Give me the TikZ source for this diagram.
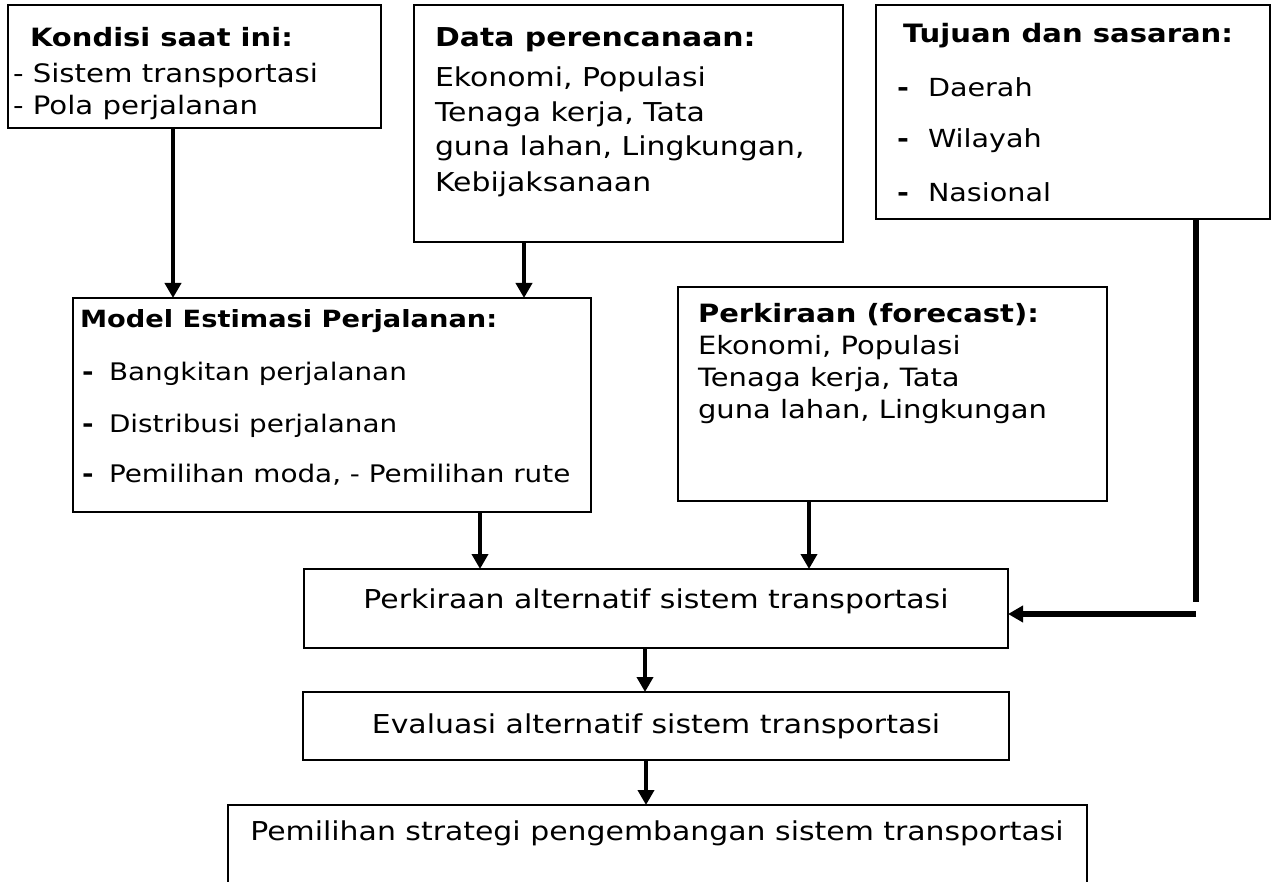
\documentclass[tikz,border=0pt]{standalone}
\usepackage{fontspec}
\setmainfont{DejaVu Sans}[FakeStretch=1.15]
\usetikzlibrary{arrows.meta}
\begin{document}
\begin{tikzpicture}[x=1pt,y=-1pt,
  box/.style={draw=black, line width=1.6pt, anchor=north west, inner sep=0pt, outer sep=0pt},
  ln/.style={anchor=base west, inner sep=0pt, outer sep=0pt, text=black},
  ctr/.style={anchor=base, inner sep=0pt, outer sep=0pt, text=black, font=\fontsize{26}{30}\selectfont},
  arr/.style={line width=4.5pt, -{Triangle[width=16pt,length=15pt]}},
  arrh/.style={line width=6pt, -{Triangle[width=16pt,length=15pt]}},
  feed/.style={line width=6pt}
]
\useasboundingbox[fill=white] (0,0) rectangle (1273,882);

% boxes
\node[box, minimum width=373pt, minimum height=123pt] (b1) at (8,5) {};
\node[box, minimum width=429pt, minimum height=237pt] (b2) at (414,5) {};
\node[box, minimum width=394pt, minimum height=214pt] (b3) at (876,5) {};
\node[box, minimum width=518pt, minimum height=214pt] (b4) at (73,298) {};
\node[box, minimum width=429pt, minimum height=214pt] (b5) at (678,287) {};
\node[box, minimum width=704pt, minimum height=79pt] (b6) at (304,569) {};
\node[box, minimum width=706pt, minimum height=68pt] (b7) at (303,692) {};
\node[box, minimum width=859pt, minimum height=120pt] (b8) at (228,805) {};

% box 1
\node[ln, font=\bfseries\fontsize{25.2}{29}\selectfont] (t1a) at (30,47) {Kondisi saat ini:};
\node[ln, font=\fontsize{25.4}{29}\selectfont] (t1b) at (13,83) {- Sistem transportasi};
\node[ln, font=\fontsize{25.4}{29}\selectfont] (t1c) at (13,115) {- Pola perjalanan};

% box 2
\node[ln, font=\bfseries\fontsize{26}{30}\selectfont] (t2a) at (435,47) {Data perencanaan:};
\node[ln, font=\fontsize{26}{30}\selectfont] (t2b) at (435,87) {Ekonomi, Populasi};
\node[ln, font=\fontsize{26}{30}\selectfont] (t2c) at (435,122) {Tenaga kerja, Tata};
\node[ln, font=\fontsize{26}{30}\selectfont] (t2d) at (435,156) {guna lahan, Lingkungan,};
\node[ln, font=\fontsize{26}{30}\selectfont] (t2e) at (435,192) {Kebijaksanaan};

% box 3
\node[ln, font=\bfseries\fontsize{25.3}{29}\selectfont] (t3a) at (903,43) {Tujuan dan sasaran:};
\node[ln, font=\bfseries\fontsize{24.9}{29}\selectfont] (d3b) at (897,97) {-};
\node[ln, font=\fontsize{24.9}{29}\selectfont] (t3b) at (928,97) {Daerah};
\node[ln, font=\bfseries\fontsize{24.9}{29}\selectfont] (d3c) at (897,148) {-};
\node[ln, font=\fontsize{24.9}{29}\selectfont] (t3c) at (928,148) {Wilayah};
\node[ln, font=\bfseries\fontsize{24.9}{29}\selectfont] (d3d) at (897,202) {-};
\node[ln, font=\fontsize{24.9}{29}\selectfont] (t3d) at (928,202) {Nasional};

% box 4
\node[ln, font=\bfseries\fontsize{23.7}{28}\selectfont] (t4a) at (80,327) {Model Estimasi Perjalanan:};
\node[ln, font=\bfseries\fontsize{24.2}{28}\selectfont] (d4b) at (82,380) {-};
\node[ln, font=\fontsize{24.2}{28}\selectfont] (t4b) at (109,380) {Bangkitan perjalanan};
\node[ln, font=\bfseries\fontsize{24.2}{28}\selectfont] (d4c) at (82,432) {-};
\node[ln, font=\fontsize{24.2}{28}\selectfont] (t4c) at (109,432) {Distribusi perjalanan};
\node[ln, font=\bfseries\fontsize{24.2}{28}\selectfont] (d4d) at (82,482) {-};
\node[ln, font=\fontsize{24.2}{28}\selectfont] (t4d) at (109,482) {Pemilihan moda, - Pemilihan rute};

% box 5
\node[ln, font=\bfseries\fontsize{25.2}{29}\selectfont] (t5a) at (698,323) {Perkiraan (forecast):};
\node[ln, font=\fontsize{25.2}{29}\selectfont] (t5b) at (698,354) {Ekonomi, Populasi};
\node[ln, font=\fontsize{25.2}{29}\selectfont] (t5c) at (698,386) {Tenaga kerja, Tata};
\node[ln, font=\fontsize{25.2}{29}\selectfont] (t5d) at (698,418) {guna lahan, Lingkungan};

% boxes 6-8
\node[ctr] (t6) at (656,608) {Perkiraan alternatif sistem transportasi};
\node[ctr] (t7) at (656,733) {Evaluasi alternatif sistem transportasi};
\node[ctr] (t8) at (657,840) {Pemilihan strategi pengembangan sistem transportasi};

% connectors
\coordinate (c1) at (1196,602);
\coordinate (c2) at (1196,614);
\draw[arr] (173,0 |- b1.south) -- (173,0 |- b4.north);
\draw[arr] (524,0 |- b2.south) -- (524,0 |- b4.north);
\draw[arr] (480,0 |- b4.south) -- (480,0 |- b6.north);
\draw[arr] (809,0 |- b5.south) -- (809,0 |- b6.north);
\draw[feed] (1196,0 |- b3.south) -- (c1);
\draw[arrh] (c2) -- (b6.east |- c2);
\draw[arr] (645,0 |- b6.south) -- (645,0 |- b7.north);
\draw[arr] (646,0 |- b7.south) -- (646,0 |- b8.north);
\end{tikzpicture}
\end{document}
